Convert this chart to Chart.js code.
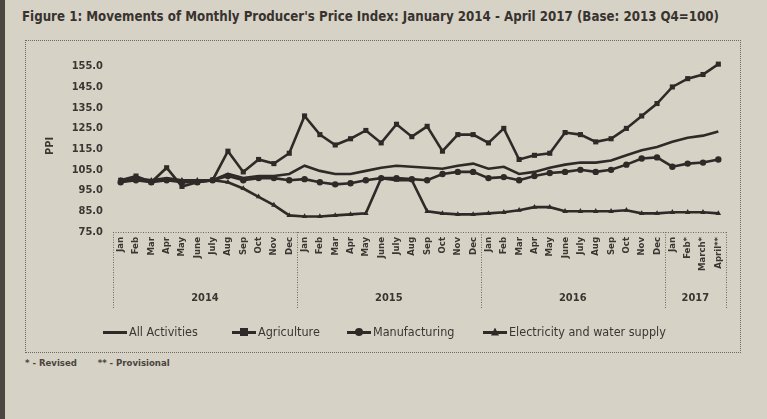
<!DOCTYPE html>
<html>
<head>
<meta charset="utf-8">
<script src="https://cdn.jsdelivr.net/npm/chart.js@4"></script>
<style>
  body { margin: 0; width: 767px; height: 419px; background: #d7d2c6; position: relative; overflow: hidden;
         font-family: "DejaVu Sans Condensed", "Liberation Sans Narrow", Arial, sans-serif; color: #3b3632; }
  #strip { position: absolute; left: 0; top: 0; width: 5px; height: 419px; background: #4d4742; }
  #title { position: absolute; left: 22px; top: 9px; font-size: 13.2px; font-weight: bold; white-space: nowrap; color: #38332f; }
  #box { position: absolute; left: 25px; top: 40px; width: 714px; height: 311px; border: 1px dotted #6f6862; }
  #wrap { position: absolute; left: 25px; top: 40px; width: 715px; height: 312px; }
  #legend { position: absolute; left: 0; top: 324px; font-size: 12.5px; white-space: nowrap; }
  .item { position: absolute; top: 0; display: flex; align-items: center; }
  .sym { position: relative; width: 24px; height: 10px; margin-right: 2px; }
  .sym .ln { position: absolute; left: 0; top: 4px; width: 24px; height: 3px; background: #2f2a27; }
  .sym .mk { position: absolute; left: 8px; top: 1px; width: 8px; height: 8px; background: #2f2a27; }
  #note { position: absolute; left: 25px; top: 357px; font-size: 9.5px; font-weight: bold; color: #4a4440; }
</style>
</head>
<body>
<div id="strip"></div>
<div id="title">Figure 1: Movements of Monthly Producer's Price Index: January 2014 - April 2017 (Base: 2013 Q4=100)</div>
<div id="box"></div>
<div id="wrap"><canvas id="ppiChart" width="715" height="312"></canvas></div>
<div id="legend"></div>
<div id="note">* - Revised&nbsp;&nbsp;&nbsp;&nbsp;&nbsp;&nbsp;&nbsp;** - Provisional</div>
<script>
// 月ラベル
const months = ['Jan','Feb','Mar','Apr','May','June','July','Aug','Sep','Oct','Nov','Dec',
                'Jan','Feb','Mar','Apr','May','June','July','Aug','Sep','Oct','Nov','Dec',
                'Jan','Feb','Mar','Apr','May','June','July','Aug','Sep','Oct','Nov','Dec',
                'Jan','Feb*','March*','April**'];
const years = ['2014', '2015', '2016', '2017'];
const yearCounts = [12, 12, 12, 4];
const yTicks = [75, 85, 95, 105, 115, 125, 135, 145, 155];

// 系列データ (PPI)
const allActivities = [100, 101, 100, 101, 100, 100, 100, 103, 101, 102, 102, 103,
                       107, 104.5, 103, 103, 104.5, 106, 107, 106.5, 106, 105.5, 107, 108,
                       105.5, 106.5, 103, 104, 106, 107.5, 108.5, 108.5, 109.5, 112, 114.5, 116,
                       118.5, 120.5, 121.5, 123.5];
const agriculture = [100, 102, 99, 106, 97, 99, 100, 114, 104, 110, 108, 113,
                     131, 122, 117, 120, 124, 118, 127, 121, 126, 114, 122, 122,
                     118, 125, 110, 112, 113, 123, 122, 118.5, 120, 125, 131, 137,
                     145, 149, 151, 156];
const manufacturing = [99, 100, 99, 100, 99, 99, 100, 102, 100, 101, 101, 100,
                       100.5, 99, 98, 98.5, 100, 101, 101, 100.5, 100, 103, 104, 104,
                       101, 101.5, 100, 102, 103.5, 104, 105, 104, 105, 107.5, 110.5, 111,
                       106.5, 108, 108.5, 110];
const electricity = [100, 100, 100, 100, 100, 100, 100, 99, 96, 92, 88, 83,
                     82.5, 82.5, 83, 83.5, 84, 101, 100, 100, 85, 84, 83.5, 83.5,
                     84, 84.5, 85.5, 87, 87, 85, 85, 85, 85, 85.5, 84, 84,
                     84.5, 84.5, 84.5, 84];

const seriesNames = ['All Activities', 'Agriculture', 'Manufacturing', 'Electricity and water supply'];
const markers = [false, 'rect', 'circle', 'triangle'];
const legendLeft = [103, 232, 347, 483];
const ink = '#2f2a27';
const textCol = '#3b3632';
const fontFam = '"DejaVu Sans Condensed", "Liberation Sans Narrow", Arial, sans-serif';

// 年ラベルと点線の枠
const yearBoxPlugin = {
    id: 'yearBox',
    afterDraw(chart) {
        const ctx = chart.ctx;
        const xs = chart.scales.x;
        const ys = chart.scales.y;
        const w = xs.getPixelForValue(1) - xs.getPixelForValue(0);
        const top = ys.getPixelForValue(75);
        const bottom = top + 76;
        ctx.save();
        ctx.strokeStyle = '#6f6862';
        ctx.lineWidth = 1;
        ctx.setLineDash([1, 1.5]);
        ctx.beginPath();
        ctx.moveTo(chart.chartArea.left, top + 0.5);
        ctx.lineTo(chart.chartArea.right, top + 0.5);
        let idx = 0;
        let bounds = [];
        yearCounts.forEach(c => { bounds.push(idx); idx += c; });
        bounds.push(idx);
        bounds.forEach(b => {
            let x = Math.round(xs.getPixelForValue(b) - w / 2) + 0.5;
            ctx.moveTo(x, top);
            ctx.lineTo(x, bottom);
        });
        ctx.stroke();
        ctx.setLineDash([]);
        ctx.fillStyle = textCol;
        ctx.font = 'bold 11px ' + fontFam;
        ctx.textAlign = 'center';
        ctx.textBaseline = 'middle';
        years.forEach((y, i) => {
            let x1 = xs.getPixelForValue(bounds[i]) - w / 2;
            let x2 = xs.getPixelForValue(bounds[i + 1]) - w / 2;
            ctx.fillText(y, (x1 + x2) / 2, top + 66);
        });
        ctx.restore();
    }
};

const dataSeries = [allActivities, agriculture, manufacturing, electricity];
let ctx = document.getElementById('ppiChart').getContext('2d');
let ppiChart = new Chart(ctx, {
    type: 'line',
    data: {
        labels: months,
        datasets: dataSeries.map((d, i) => ({
            label: seriesNames[i],
            data: d,
            borderColor: ink,
            backgroundColor: ink,
            borderWidth: 2.6,
            pointStyle: markers[i] || 'circle',
            pointRadius: markers[i] ? (i === 1 ? 3.6 : 3.2) : 0,
            pointBorderWidth: 0,
            fill: false,
            tension: 0
        }))
    },
    options: {
        responsive: false,
        animation: false,
        layout: { padding: { top: 20, right: 14, bottom: 44, left: 0 } },
        scales: {
            x: {
                type: 'category',
                offset: true,
                grid: { display: false, drawTicks: false },
                border: { display: false },
                ticks: {
                    autoSkip: false, maxRotation: 90, minRotation: 90, padding: 5,
                    color: textCol, font: { family: fontFam, size: 9.5, weight: 'bold' }
                },
                afterFit(scale) { scale.height = 76; }
            },
            y: {
                min: 75, max: 158,
                grid: { display: false, drawTicks: false },
                border: { display: false },
                afterBuildTicks(scale) { scale.ticks = yTicks.map(v => ({ value: v })); },
                ticks: {
                    padding: 10, color: textCol,
                    font: { family: fontFam, size: 11, weight: 'bold' },
                    callback: v => v.toFixed(1)
                },
                title: {
                    display: true, text: 'PPI', color: textCol, padding: { top: 19, bottom: 0 },
                    font: { family: fontFam, size: 11, weight: 'bold' }
                },
                afterFit(scale) { scale.width = 88; }
            }
        },
        plugins: {
            legend: { display: false },
            tooltip: { enabled: false }
        }
    },
    plugins: [yearBoxPlugin]
});

// 凡例 (HTML)
let legendEl = document.getElementById('legend');
seriesNames.forEach((name, i) => {
    let item = document.createElement('div');
    item.className = 'item';
    item.style.left = legendLeft[i] + 'px';
    let sym = '<span class="sym"><span class="ln"></span>';
    if (markers[i]) {
        let extra = markers[i] === 'circle' ? 'border-radius:50%;' : '';
        if (markers[i] === 'triangle') extra = 'clip-path:polygon(50% 0,100% 100%,0 100%);';
        sym += '<span class="mk" style="' + extra + '"></span>';
    }
    sym += '</span>';
    item.innerHTML = sym + '<span>' + name + '</span>';
    legendEl.appendChild(item);
});
</script>
</body>
</html>
